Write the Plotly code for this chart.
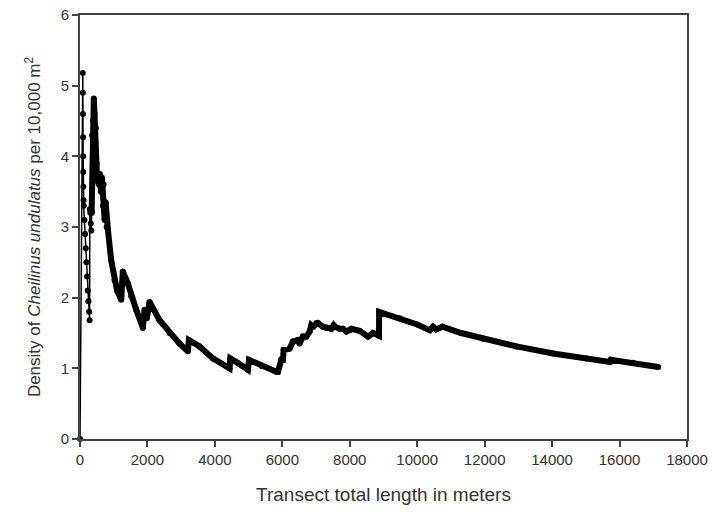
import plotly.graph_objects as go

# Cumulative transect length (m) and running density estimate
early_x = [0, 83, 85, 88, 90, 93, 96, 100, 105, 110, 130, 150, 170, 190, 210, 230, 250, 270, 285,
           292, 305, 320, 335, 345]
early_y = [0, 5.18, 4.9, 4.6, 4.27, 4.0, 3.78, 3.57, 3.38, 3.3, 3.1, 2.9, 2.7, 2.5, 2.3, 2.1, 1.95, 1.8, 1.68,
           3.25, 3.2, 3.05, 2.95, 3.2]

main_x = [345, 360, 385, 410, 430, 450, 470, 490, 510, 530, 560, 590, 620, 650, 680, 700, 730, 760, 790,
          830, 925, 1024, 1100, 1222, 1270, 1420, 1519, 1667, 1865, 1914, 1983, 2062, 2359, 2656, 2953,
          3199, 3229, 3546, 3941, 4436, 4457, 4700, 4980, 5010, 5400, 5822, 5870, 5970, 6018, 6039, 6217,
          6315, 6463, 6513, 6611, 6712, 6810, 6860, 6908, 7009, 7056, 7205, 7306, 7454, 7522, 7552, 7700,
          7800, 7899, 7997, 8047, 8294, 8541, 8689, 8867, 8870, 9481, 10000, 10371, 10470, 10560, 10748,
          11300, 11953, 12944, 14030, 15020, 15712, 15740, 16400, 17145]
main_y = [3.2, 4.3, 4.5, 4.82, 4.6, 4.2, 4.4, 3.9, 3.65, 3.75, 3.6, 3.75, 3.5, 3.7, 3.3, 3.6, 3.1, 3.35, 3.0,
          2.95, 2.53, 2.25, 2.1, 1.97, 2.37, 2.2, 2.02, 1.83, 1.57, 1.83, 1.71, 1.94, 1.68, 1.50, 1.35,
          1.24, 1.40, 1.31, 1.14, 1.0, 1.14, 1.07, 0.98, 1.12, 1.03, 0.95, 0.95, 1.12, 1.12, 1.26, 1.28,
          1.38, 1.40, 1.35, 1.45, 1.45, 1.52, 1.61, 1.59, 1.64, 1.64, 1.59, 1.57, 1.56, 1.61, 1.59, 1.56,
          1.56, 1.52, 1.54, 1.56, 1.53, 1.45, 1.50, 1.46, 1.80, 1.71, 1.62, 1.54, 1.59, 1.55, 1.59,
          1.50, 1.42, 1.31, 1.21, 1.14, 1.09, 1.12, 1.08, 1.02]

x_ticks = [0, 2000, 4000, 6000, 8000, 10000, 12000, 14000, 16000, 18000]
y_ticks = [0, 1, 2, 3, 4, 5, 6]

fig = go.Figure()
fig.add_trace(go.Scatter(x=early_x, y=early_y, mode="lines+markers",
                         line=dict(color="black", width=1.5),
                         marker=dict(color="black", size=6),
                         cliponaxis=False, showlegend=False))
fig.add_trace(go.Scatter(x=main_x, y=main_y, mode="lines+markers",
                         line=dict(color="black", width=6),
                         marker=dict(color="black", size=6),
                         cliponaxis=False, showlegend=False))

FONT = "Liberation Sans, Arial, sans-serif"
fig.update_layout(
    width=713, height=512,
    margin=dict(l=80, r=26, t=15, b=73),
    paper_bgcolor="white", plot_bgcolor="white",
    font=dict(family=FONT, size=15, color="#333333"),
    xaxis=dict(range=[0, 18000], tickvals=x_ticks, ticktext=[str(v) for v in x_ticks],
               automargin=False, ticklabeloverflow="allow",
               showgrid=False, zeroline=False, showline=True, linecolor="#444444", linewidth=2,
               mirror=True, ticks="outside", ticklen=6, tickcolor="#444444", tickwidth=1.5,
               tickfont=dict(family=FONT, size=15, color="#333333"),
               title=dict(text="Transect total length in meters",
                          font=dict(family=FONT, size=19, color="#333333"),
                          standoff=21)),
    yaxis=dict(range=[0, 6], tickvals=y_ticks, ticktext=[str(v) for v in y_ticks],
               automargin=False, ticklabeloverflow="allow",
               showgrid=False, zeroline=False, showline=True, linecolor="#444444", linewidth=2,
               mirror=True, ticks="outside", ticklen=6, tickcolor="#444444", tickwidth=1.5,
               tickfont=dict(family=FONT, size=15, color="#333333"),
               title=dict(text="Density of <i>Cheilinus undulatus</i> per 10,000 m<sup>2</sup>",
                          font=dict(family=FONT, size=17, color="#333333"),
                          standoff=16)),
)
# remove the default 8px page margin so the figure fills the window exactly
fig.write_html("out.html",
               config={"displayModeBar": False},
               post_script="document.body.style.margin='0';document.body.style.overflow='hidden';")
